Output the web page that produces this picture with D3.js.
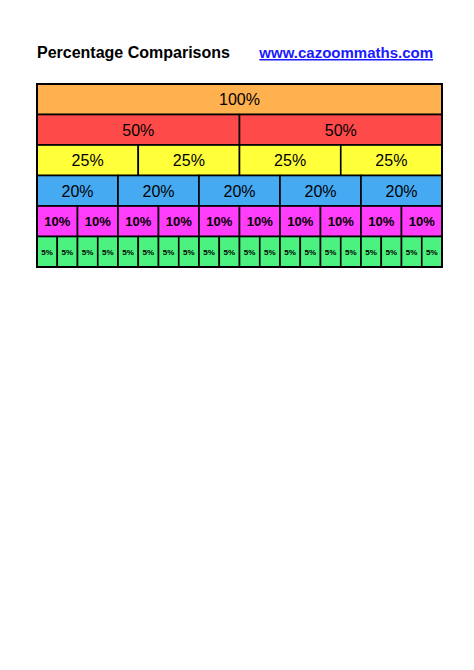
<!DOCTYPE html>
<html><head><meta charset="utf-8">
<script src="https://cdn.jsdelivr.net/npm/d3@7"></script>
<style>body{margin:0;background:#fff}</style>
</head><body>
<svg id="chart" width="474" height="670"></svg>
<script>
// one row per fraction
const parts = [1, 2, 4, 5, 10, 20];
const labels = ["100%", "50%", "25%", "20%", "10%", "5%"];
const colors = ["#ffb04f", "#ff4a4a", "#ffff3a", "#45aaf2", "#ff3dfa", "#4cf27f"];
const fontSizes = [16, 16, 16, 16, 13, 8];

const svg = d3.select("#chart");

svg.append("text").attr("x", 37).attr("y", 58)
  .attr("font-family", "Liberation Sans, Arial, sans-serif").attr("font-weight", "bold")
  .attr("font-size", 16).text("Percentage Comparisons");
svg.append("text").attr("x", 433).attr("y", 58).attr("text-anchor", "end")
  .attr("font-family", "Liberation Sans, Arial, sans-serif").attr("font-weight", "bold")
  .attr("font-size", 15).attr("fill", "#1a1aff").attr("text-decoration", "underline")
  .text("www.cazoommaths.com");

const x = d3.scaleLinear().domain([0, 1]).range([37, 442]);
const y = d3.scaleBand().domain(d3.range(parts.length)).range([84, 267]);

parts.forEach((n, r) => {
  const cells = d3.range(n);
  const g = svg.append("g");
  g.selectAll("rect").data(cells).join("rect")
    .attr("x", i => x(i / n)).attr("y", y(r))
    .attr("width", x(1 / n) - x(0)).attr("height", y.bandwidth())
    .attr("fill", colors[r]).attr("stroke", "#000").attr("stroke-width", 1.6);
  g.selectAll("text").data(cells).join("text")
    .attr("x", i => x((i + 0.5) / n)).attr("y", y(r) + y.bandwidth() / 2)
    .attr("dy", "0.36em").attr("text-anchor", "middle")
    .attr("font-family", "Liberation Sans, Arial, sans-serif")
    .attr("font-size", fontSizes[r]).attr("font-weight", r >= 4 ? "bold" : "normal")
    .text(labels[r]);
});
svg.append("rect").attr("x", 37).attr("y", 84).attr("width", 405).attr("height", 183)
  .attr("fill", "none").attr("stroke", "#000").attr("stroke-width", 2);
</script>
</body></html>
